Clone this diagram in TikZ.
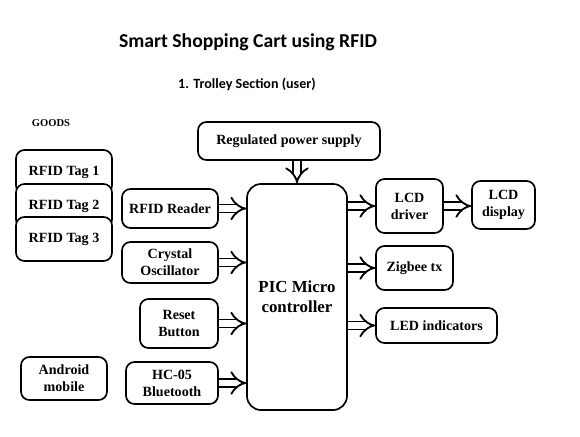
\documentclass[tikz,border=0pt]{standalone}
\usepackage{fontspec}
\setmainfont{Liberation Serif}
\newfontfamily\calib{Carlito}
\usepackage{tikz}
\usetikzlibrary{arrows.meta, positioning}

\begin{document}
\begin{tikzpicture}[
      x=0.025cm, y=-0.025cm,
      blk/.style={rectangle, rounded corners=6pt, draw=black, fill=white, line width=1.2pt,
                  align=center, inner sep=1pt, font=\fontsize{10}{12}\selectfont\bfseries},
      dbl/.style={double, double distance=4.5pt, line width=1.3pt, -Implies}
    ]
      \useasboundingbox (0,0) rectangle (580,436);
      % titles
      \node[font=\calib\fontsize{14}{16}\selectfont\bfseries] (title) at (248,42) {Smart Shopping Cart using RFID};
      \node[font=\calib\fontsize{10}{12}\selectfont\bfseries] (sub) at (247,84) {1. Trolley Section (user)};
      \node[font=\fontsize{7.5}{9}\selectfont\bfseries] (goods) at (51,123) {GOODS};
      % goods (tags overlap)
      \node[blk, minimum width=2.4cm, minimum height=1.1cm] (tag1) at (64,172) {RFID Tag 1};
      \node[blk, minimum width=2.4cm, minimum height=1.1cm] (tag2) at (64,206) {RFID Tag 2};
      \node[blk, minimum width=2.4cm, minimum height=1.1cm] (tag3) at (64,239) {RFID Tag 3};
      \node[blk, minimum width=2.15cm, minimum height=1.075cm] (android) at (64,378.5) {Android\\mobile};
      % inputs
      \node[blk, minimum width=2.4cm, minimum height=0.975cm] (reader) at (170,208.5) {RFID Reader};
      \node[blk, minimum width=2.4cm, minimum height=1.025cm] (xtal) at (170,262.5) {Crystal\\Oscillator};
      \node[blk, minimum width=1.95cm, minimum height=1.225cm] (reset) at (179,323.5) {Reset\\Button};
      \node[blk, minimum width=2.3cm, minimum height=1.05cm] (hc) at (172,383) {HC-05\\Bluetooth};
      % controller and supply
      \node[blk, minimum width=4.55cm, minimum height=0.95cm] (power) at (289,141) {Regulated power supply};
      \node[blk, rounded corners=10pt, minimum width=2.5cm, minimum height=5.65cm,
            font=\fontsize{12}{14}\selectfont\bfseries] (pic) at (297,297) {PIC Micro\\controller};
      % outputs
      \node[blk, minimum width=1.675cm, minimum height=1.35cm] (lcddrv) at (409.5,206) {LCD\\driver};
      \node[blk, minimum width=1.575cm, minimum height=1.2cm] (lcddisp) at (503.5,205) {LCD\\display};
      \node[blk, minimum width=1.925cm, minimum height=1.1cm] (zig) at (414.5,268) {Zigbee tx};
      \node[blk, minimum width=3.025cm, minimum height=0.875cm] (led) at (436.5,325.5) {LED indicators};
      % arrows
      \draw[dbl] (pic.north |- power.south) -- (pic.north);
      \draw[dbl] (reader.east) -- (reader.east -| pic.west);
      \draw[dbl] (xtal.east) -- (xtal.east -| pic.west);
      \draw[dbl] (reset.east) -- (reset.east -| pic.west);
      \draw[dbl] (hc.east) -- (hc.east -| pic.west);
      \draw[dbl] (pic.east |- lcddrv.west) -- (lcddrv.west);
      \draw[dbl] (lcddrv.east) -- (lcddrv.east -| lcddisp.west);
      \draw[dbl] (pic.east |- zig.west) -- (zig.west);
      \draw[dbl] (pic.east |- led.west) -- (led.west);
    \end{tikzpicture}
\end{document}
